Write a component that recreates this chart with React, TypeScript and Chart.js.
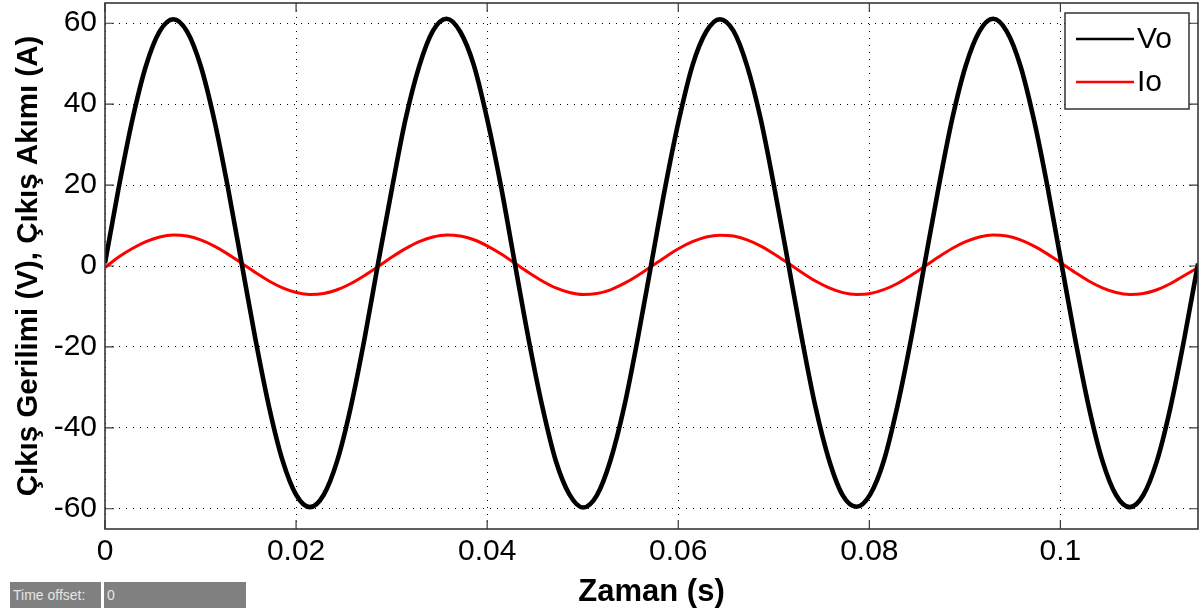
import { useEffect, useRef } from "react";
import { Chart, registerables } from "chart.js";

Chart.register(...registerables);

// Simulation time samples (s)
const timeS = [
  0, 0.00143, 0.00286, 0.00429, 0.00572, 0.00715, 0.00858, 0.01001, 0.01144, 0.01287,
  0.0143, 0.01573, 0.01716, 0.01859, 0.02002, 0.02145, 0.02288, 0.02431, 0.02574, 0.02717,
  0.0286, 0.03003, 0.03146, 0.03289, 0.03432, 0.03575, 0.03718, 0.03861, 0.04004, 0.04147,
  0.0429, 0.04433, 0.04576, 0.04719, 0.04862, 0.05005, 0.05148, 0.05291, 0.05434, 0.05577,
  0.0572, 0.05863, 0.06006, 0.06149, 0.06292, 0.06435, 0.06578, 0.06721, 0.06864, 0.07007,
  0.0715, 0.07293, 0.07436, 0.07579, 0.07722, 0.07865, 0.08008, 0.08151, 0.08294, 0.08437,
  0.0858, 0.08723, 0.08866, 0.09009, 0.09152, 0.09295, 0.09438, 0.09581, 0.09724, 0.09867,
  0.1001, 0.10153, 0.10296, 0.10439, 0.10582, 0.10725, 0.10868, 0.11011, 0.11154, 0.11297,
  0.1144,
];

// Output voltage Vo (V)
const voValues = [
  0.7, 19.3, 36.1, 49.5, 58.0, 61.0, 58.0, 49.5, 36.1, 19.3,
  0.7, -17.9, -34.7, -48.1, -56.6, -59.6, -56.6, -48.1, -34.7, -17.9,
  0.9, 19.1, 36.3, 49.4, 58.1, 61.1, 57.9, 49.6, 35.9, 19.4,
  0.6, -18.0, -34.6, -48.2, -56.5, -59.7, -56.7, -48.0, -34.8, -17.8,
  0.8, 19.4, 36.0, 49.6, 57.9, 61.0, 58.1, 49.4, 36.2, 19.2,
  0.8, -17.8, -34.8, -48.0, -56.7, -59.5, -56.5, -48.2, -34.6, -18.0,
  0.7, 19.2, 36.2, 49.5, 58.0, 61.1, 58.0, 49.5, 36.0, 19.3,
  0.7, -17.9, -34.7, -48.1, -56.6, -59.6, -56.6, -48.1, -34.7, -17.9,
  0.6,
];

// Output current Io (A)
const ioValues = [
  -0.4, 2.2, 4.31, 6.01, 7.16, 7.64, 7.4, 6.47, 4.92, 2.93,
  0.68, -1.6, -3.71, -5.41, -6.56, -7.04, -6.8, -5.87, -4.32, -2.33,
  -0.1, 2.21, 4.3, 6.02, 7.15, 7.65, 7.39, 6.48, 4.91, 2.94,
  0.67, -1.61, -3.7, -5.42, -6.55, -7.05, -6.79, -5.88, -4.31, -2.34,
  -0.08, 2.19, 4.32, 6.0, 7.17, 7.63, 7.41, 6.46, 4.93, 2.92,
  0.69, -1.59, -3.72, -5.4, -6.57, -7.03, -6.81, -5.86, -4.33, -2.32,
  -0.09, 2.2, 4.31, 6.01, 7.16, 7.64, 7.4, 6.47, 4.92, 2.93,
  0.68, -1.6, -3.71, -5.41, -6.56, -7.04, -6.8, -5.87, -4.32, -2.33,
  -0.4,
];

const seriesLabels = ["Vo", "Io"];
const seriesColors = ["#000000", "#ff0000"];
const xTicks = [0, 0.02, 0.04, 0.06, 0.08, 0.1];
const yTicks = [-60, -40, -20, 0, 20, 40, 60];
const xTitle = "Zaman (s)";
const yTitle = "Çıkış Gerilimi (V), Çıkış Akımı (A)";

const FONT = "'Liberation Sans', Arial, Helvetica, sans-serif";

const legendPlugin = {
  id: "matlabLegend",
  afterDatasetsDraw(chart: any) {
    const { ctx, chartArea } = chart;
    const w = 124;
    const h = 96;
    const bx = chartArea.right - 9 - w;
    const by = chartArea.top + 10;
    ctx.save();
    ctx.fillStyle = "#ffffff";
    ctx.fillRect(bx, by, w, h);
    ctx.strokeStyle = "#333333";
    ctx.lineWidth = 1.5;
    ctx.strokeRect(bx, by, w, h);
    ctx.font = `30px ${FONT}`;
    ctx.textBaseline = "middle";
    ctx.textAlign = "left";
    chart.data.datasets.forEach((ds: any, i: number) => {
      const ly = by + 26 + i * 43;
      ctx.strokeStyle = ds.borderColor;
      ctx.lineWidth = 2.5;
      ctx.setLineDash([]);
      ctx.beginPath();
      ctx.moveTo(bx + 11, ly);
      ctx.lineTo(bx + 69, ly);
      ctx.stroke();
      ctx.fillStyle = "#000000";
      ctx.fillText(ds.label, bx + 72, ly + 1);
    });
    ctx.restore();
  },
};

const framePlugin = {
  id: "matlabFrame",
  afterDraw(chart: any) {
    const { ctx, chartArea, scales } = chart;
    const { left, right, top, bottom } = chartArea;
    const tl = 9;
    ctx.save();
    ctx.strokeStyle = "#383838";
    ctx.lineWidth = 1.6;
    ctx.setLineDash([]);
    ctx.strokeRect(left, top, right - left, bottom - top);
    ctx.lineWidth = 1.2;
    ctx.beginPath();
    xTicks.forEach((v) => {
      const px = scales.x.getPixelForValue(v);
      ctx.moveTo(px, bottom);
      ctx.lineTo(px, bottom - tl);
      ctx.moveTo(px, top);
      ctx.lineTo(px, top + tl);
    });
    yTicks.forEach((v) => {
      const py = scales.y.getPixelForValue(v);
      ctx.moveTo(left, py);
      ctx.lineTo(left + tl, py);
      ctx.moveTo(right, py);
      ctx.lineTo(right - tl, py);
    });
    ctx.stroke();
    ctx.restore();
  },
};

export default function App() {
  const canvasRef = useRef<HTMLCanvasElement | null>(null);

  useEffect(() => {
    const canvas = canvasRef.current;
    if (!canvas) return;
    const series = [voValues, ioValues];
    const chart = new Chart(canvas, {
      type: "line",
      data: {
        datasets: series.map((vals, i) => ({
          label: seriesLabels[i],
          data: vals.map((y, k) => ({ x: timeS[k], y })),
          borderColor: seriesColors[i],
          backgroundColor: seriesColors[i],
          borderWidth: i === 0 ? 4.6 : 3,
          pointRadius: 0,
          cubicInterpolationMode: "monotone",
          fill: false,
        })),
      },
      options: {
        responsive: false,
        animation: false,
        layout: { padding: { left: 0, right: 5, top: 3, bottom: 0 } },
        plugins: {
          legend: { display: false },
          tooltip: { enabled: false },
        },
        scales: {
          x: {
            type: "linear",
            min: 0,
            max: 0.1144,
            afterBuildTicks: (s: any) => {
              s.ticks = xTicks.map((v) => ({ value: v }));
            },
            afterFit: (s: any) => {
              s.height = 85;
              s.paddingLeft = 0;
              s.paddingRight = 0;
            },
            ticks: {
              color: "#000",
              font: { family: FONT, size: 30 },
              padding: 5,
              maxRotation: 0,
              autoSkip: false,
              includeBounds: false,
              callback: (v: any) => String(Number(Number(v).toFixed(3))),
            },
            grid: { color: "#000", lineWidth: 1, drawTicks: false },
            border: { display: false, dash: [1, 6] },
            title: {
              display: true,
              text: xTitle,
              color: "#000",
              font: { family: FONT, size: 31, weight: "bold" },
              padding: { top: 0, bottom: 3 },
            },
          },
          y: {
            type: "linear",
            min: -65,
            max: 65,
            afterBuildTicks: (s: any) => {
              s.ticks = yTicks.map((v) => ({ value: v }));
            },
            afterFit: (s: any) => {
              s.width = 105;
              s.paddingTop = 0;
              s.paddingBottom = 0;
            },
            ticks: {
              color: "#000",
              font: { family: FONT, size: 30 },
              padding: 8,
              autoSkip: false,
              includeBounds: false,
            },
            grid: { color: "#000", lineWidth: 1, drawTicks: false },
            border: { display: false, dash: [1, 6] },
            title: {
              display: true,
              text: yTitle,
              color: "#000",
              font: { family: FONT, size: 29.5, weight: "bold" },
              padding: { top: 11, bottom: 0 },
            },
          },
        },
      } as any,
      plugins: [legendPlugin, framePlugin],
    });
    return () => chart.destroy();
  }, []);

  const boxStyle: any = {
    position: "absolute",
    top: 582,
    height: 26,
    background: "#808080",
    color: "#e6e6e6",
    fontFamily: FONT,
    fontSize: 14,
    lineHeight: "26px",
    boxSizing: "border-box",
    paddingLeft: 3,
    whiteSpace: "nowrap",
  };

  return (
    <div
      style={{
        position: "absolute",
        left: 0,
        top: 0,
        width: 1203,
        height: 614,
        background: "#ffffff",
        overflow: "hidden",
      }}
    >
      <canvas ref={canvasRef} width={1203} height={614} style={{ display: "block" }} />
      <div style={{ ...boxStyle, left: 10, width: 91 }}>Time offset:</div>
      <div style={{ ...boxStyle, left: 104, width: 142 }}>0</div>
    </div>
  );
}
